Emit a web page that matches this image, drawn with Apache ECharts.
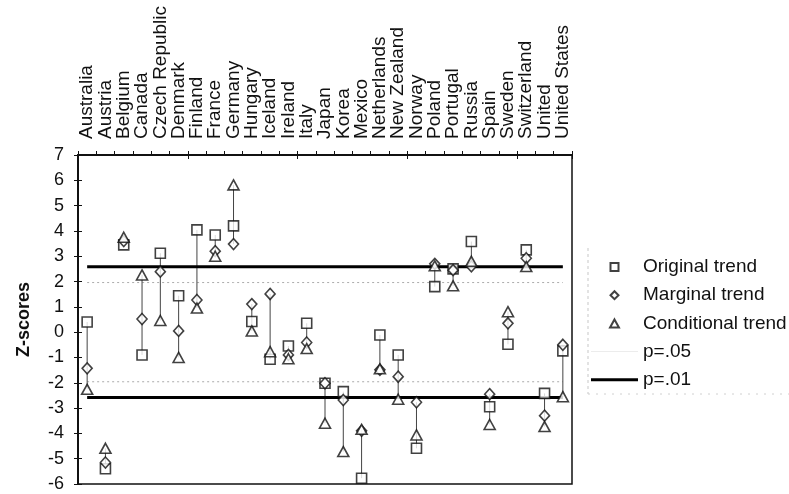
<!DOCTYPE html>
<html>
<head>
<meta charset="utf-8">
<script src="https://cdn.jsdelivr.net/npm/echarts@6/dist/echarts.min.js"></script>
<style>html,body{margin:0;padding:0;background:#fff}#c{width:789px;height:494px}</style>
</head>
<body>
<div id="c"></div>
<script>
const categories = ['Australia','Austria','Belgium','Canada','Czech Republic','Denmark','Finland','France','Germany','Hungary','Iceland','Ireland','Italy','Japan','Korea','Mexico','Netherlands','New Zealand','Norway','Poland','Portugal','Russia','Spain','Sweden','Switzerland','United','United States'];
const originalTrend    = [0.4,-5.4,3.45,-0.9,3.12,1.44,4.04,3.84,4.2,0.42,-1.07,-0.55,0.35,-2.02,-2.35,-5.77,-0.11,-0.9,-4.59,1.8,2.5,3.58,-2.95,-0.48,3.25,-2.42,-0.74];
const marginalTrend    = [-1.43,-5.15,3.6,0.52,2.39,0.05,1.27,3.2,3.48,1.11,1.51,-0.9,-0.41,-2.02,-2.68,-3.9,-1.49,-1.76,-2.77,2.7,2.45,2.6,-2.45,0.35,2.92,-3.3,-0.5];
const conditionalTrend = [-2.26,-4.59,3.75,2.26,0.46,-1.0,0.95,3.0,5.82,0.05,-0.77,-1.05,-0.65,-3.6,-4.72,-3.84,-1.45,-2.65,-4.06,2.62,1.83,2.8,-3.65,0.81,2.59,-3.73,-2.55];
const p05 = 1.96;
const p01 = 2.58;
const yTicks = {min: -6, max: 7, interval: 1};

const FONT = 'Liberation Sans, Arial, sans-serif';
const chart = echarts.init(document.getElementById('c'), null, {renderer: 'canvas'});

const ranges = categories.map((c, i) => {
  const v = [originalTrend[i], marginalTrend[i], conditionalTrend[i]];
  return [i, Math.min(...v), Math.max(...v)];
});

const markerStyle = {color: '#fff', borderColor: '#111', borderWidth: 1.6};

chart.setOption({
  animation: false,
  backgroundColor: '#fff',
  grid: {left: 78, right: 217, top: 155, bottom: 10, show: true, borderColor: '#111', borderWidth: 1.5, backgroundColor: 'transparent'},
  xAxis: [{
    type: 'category', data: categories, position: 'top', boundaryGap: true,
    axisLine: {show: true, onZero: false, lineStyle: {color: '#111', width: 2}},
    axisTick: {show: true, length: 4, lineStyle: {color: '#111'}},
    axisLabel: {interval: 0, rotate: -90, fontSize: 19, fontFamily: FONT, color: '#111', margin: 16}
  }, {
    type: 'category', data: categories, position: 'top', boundaryGap: true,
    axisLine: {show: false, onZero: false}, axisLabel: {show: false},
    axisTick: {show: true, inside: true, length: 4, lineStyle: {color: '#111'}}
  }],
  yAxis: [{
    type: 'value', min: yTicks.min, max: yTicks.max, interval: yTicks.interval,
    name: 'Z-scores', nameLocation: 'middle', nameGap: 45,
    nameTextStyle: {fontSize: 18, fontWeight: 'bold', fontFamily: FONT, color: '#111'},
    axisLine: {show: true, onZero: false, lineStyle: {color: '#111', width: 2}},
    axisTick: {show: true, length: 4, lineStyle: {color: '#111'}},
    axisLabel: {fontSize: 18, fontFamily: FONT, color: '#111', margin: 14},
    splitLine: {show: false}
  }, {
    type: 'value', min: yTicks.min, max: yTicks.max, interval: yTicks.interval, position: 'left',
    axisLine: {show: false, onZero: false}, axisLabel: {show: false}, splitLine: {show: false},
    axisTick: {show: true, inside: true, length: 4, lineStyle: {color: '#111'}}
  }],
  legend: {
    orient: 'vertical', left: 586, top: 252, itemWidth: 47, itemHeight: 8, itemGap: 8.2,
    textStyle: {fontSize: 19, fontFamily: FONT, color: '#111', lineHeight: 20},
    data: [
      {name: 'Original trend', icon: 'path://M0,0H10V10H0Z'},
      {name: 'Marginal trend', icon: 'path://M5,0L10,5L5,10L0,5Z'},
      {name: 'Conditional trend', icon: 'path://M5,0L10,9H0Z'},
      {name: 'p=.05', icon: 'path://M0,0H47V1H0Z'},
      {name: 'p=.01', icon: 'path://M0,0H47V3H0Z'}
    ]
  },
  graphic: [
    {type: 'line', shape: {x1: 588, y1: 248, x2: 588, y2: 394}, style: {stroke: '#c8c8c8', lineWidth: 1, lineDash: [3, 3]}},
    {type: 'line', shape: {x1: 588, y1: 394, x2: 789, y2: 394}, style: {stroke: '#d0d0d0', lineWidth: 1, lineDash: [2, 6]}}
  ],
  series: [
    {name: 'p=.05', type: 'line', data: categories.map(() => p05), symbol: 'none', color: '#ececec',
     lineStyle: {color: '#aaa', width: 1, type: [2, 3]}, z: 1, silent: true},
    {name: 'p=.05', type: 'line', data: categories.map(() => -p05), symbol: 'none', color: '#ececec',
     lineStyle: {color: '#aaa', width: 1, type: [2, 3]}, z: 1, silent: true},
    {name: 'p=.01', type: 'line', data: categories.map(() => p01), symbol: 'none', color: '#000',
     lineStyle: {color: '#000', width: 3}, z: 2, silent: true},
    {name: 'p=.01', type: 'line', data: categories.map(() => -p01), symbol: 'none', color: '#000',
     lineStyle: {color: '#000', width: 3}, z: 2, silent: true},
    {name: 'range', type: 'custom', data: ranges, encode: {x: 0, y: [1, 2]}, z: 2, silent: true,
     renderItem: (params, api) => {
       const a = api.coord([api.value(0), api.value(1)]);
       const b = api.coord([api.value(0), api.value(2)]);
       return {type: 'line', shape: {x1: a[0], y1: a[1], x2: b[0], y2: b[1]}, style: {stroke: '#444', lineWidth: 1}};
     }},
    {name: 'Original trend', type: 'scatter', data: originalTrend, symbol: 'rect', symbolSize: 10, itemStyle: markerStyle, z: 3},
    {name: 'Marginal trend', type: 'scatter', data: marginalTrend, symbol: 'diamond', symbolSize: [10, 11], itemStyle: markerStyle, z: 4},
    {name: 'Conditional trend', type: 'scatter', data: conditionalTrend, symbol: 'triangle', symbolSize: [11, 10], itemStyle: markerStyle, z: 5}
  ]
});
</script>
</body>
</html>
